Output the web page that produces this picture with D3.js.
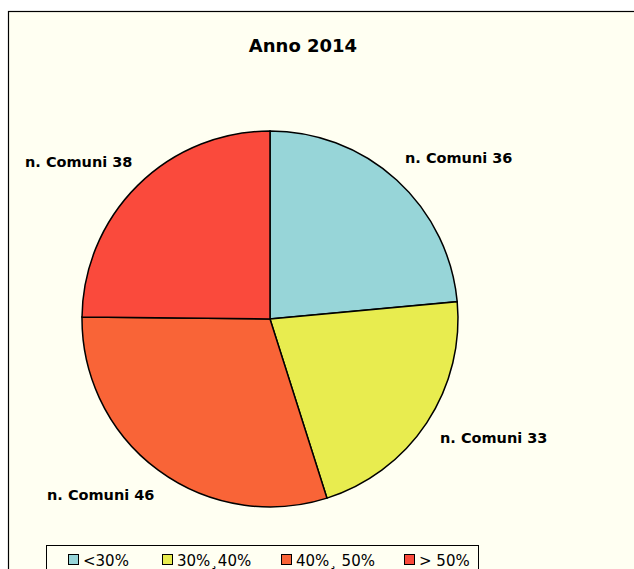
<!DOCTYPE html>
<html>
<head>
<meta charset="utf-8">
<script src="https://cdn.jsdelivr.net/npm/d3@7"></script>
<style>
  body { margin: 0; background: #fff; }
  svg { display: block; }
  text { font-family: "DejaVu Sans", sans-serif; }
</style>
</head>
<body>
<svg id="chart"></svg>
<script>
// dati
var categories = ["<30%", "30%\u00b840%", "40%\u00b8 50%", "> 50%"];
var values = [36, 33, 46, 38];
var labels = ["n. Comuni 36", "n. Comuni 33", "n. Comuni 46", "n. Comuni 38"];
var colors = ["#97D5D8", "#E8EC4F", "#F96437", "#FA4A3C"];

var width = 634, height = 569;
var cx = 270, cy = 319, radius = 188;

var svg = d3.select("#chart")
    .attr("width", width)
    .attr("height", height);

// sfondo e bordo
svg.append("rect")
    .attr("x", 8.5).attr("y", 11.5)
    .attr("width", 640).attr("height", 600)
    .attr("fill", "#FFFFF2")
    .attr("stroke", "#000")
    .attr("stroke-width", 1.2);

// titolo
svg.append("text")
    .attr("x", 303).attr("y", 52)
    .attr("text-anchor", "middle")
    .style("font-size", "18px")
    .style("font-weight", "bold")
    .text("Anno 2014");

// torta
var pie = d3.pie().sort(null).value(function(d) { return d; });
var arc = d3.arc().innerRadius(0).outerRadius(radius);
var arcs = pie(values);

var g = svg.append("g").attr("transform", "translate(" + cx + "," + cy + ")");
g.selectAll("path")
    .data(arcs)
    .enter().append("path")
    .attr("d", arc)
    .attr("fill", function(d, i) { return colors[i]; })
    .attr("stroke", "#000")
    .attr("stroke-width", 1.5);

// etichette
var labelPos = [[405, 163], [440, 443], [47, 500], [25, 167]];
svg.selectAll(".lbl")
    .data(labels)
    .enter().append("text")
    .attr("class", "lbl")
    .attr("x", function(d, i) { return labelPos[i][0]; })
    .attr("y", function(d, i) { return labelPos[i][1]; })
    .style("font-size", "14.5px")
    .style("font-weight", "bold")
    .text(function(d) { return d; });

// legenda
svg.append("rect")
    .attr("x", 46.5).attr("y", 545.5)
    .attr("width", 432).attr("height", 40)
    .attr("fill", "#FFFFF2")
    .attr("stroke", "#000")
    .attr("stroke-width", 1);

var legX = [68, 162, 281, 404];
var leg = svg.selectAll(".leg")
    .data(categories)
    .enter().append("g")
    .attr("class", "leg")
    .attr("transform", function(d, i) { return "translate(" + legX[i] + ",554)"; });

leg.append("rect")
    .attr("x", 0.5).attr("y", 0.5)
    .attr("width", 10).attr("height", 10)
    .attr("fill", function(d, i) { return colors[i]; })
    .attr("stroke", "#000")
    .attr("stroke-width", 1);

leg.append("text")
    .attr("x", 15).attr("y", 12)
    .style("font-size", "15px")
    .text(function(d) { return d; });
</script>
</body>
</html>
